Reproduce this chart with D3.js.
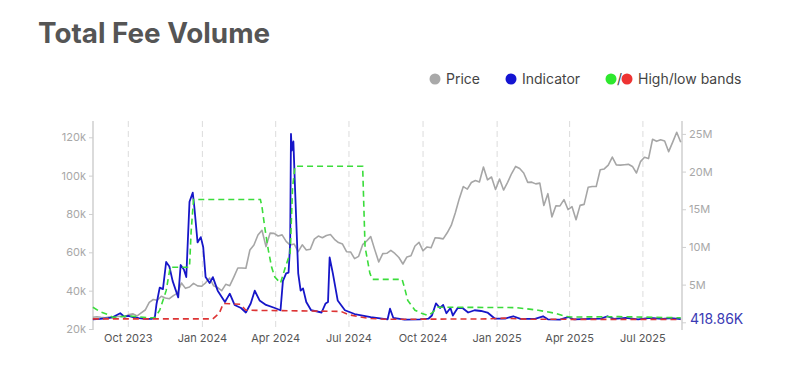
<!DOCTYPE html>
<html>
<head>
<meta charset="utf-8">
<script src="https://cdn.jsdelivr.net/npm/d3@7"></script>
<style>
  body { margin: 0; background: #fff; }
  svg { display: block; font-family: Inter, "Noto Sans", sans-serif; }
</style>
</head>
<body>
<script>
// Price (k USD), one value every 5 days from 2023-08-18
const priceStart = "2023-08-18";
const priceValues = [
  26.1, 26.4, 26.1, 25.9, 26.2, 25.8, 26.5, 26.6, 26.4, 27.6,
  27.9, 26.8, 28.4, 29.9, 33.9, 35.4, 35.0, 37.1, 36.2, 35.8,
  37.4, 38.7, 44.0, 41.2, 41.9, 43.8, 42.5, 42.3, 44.1, 46.6,
  42.5, 41.6, 40.0, 43.3, 42.6, 47.1, 51.8, 51.8, 51.7, 61.2,
  63.8, 69.0, 71.5, 63.0, 70.0, 69.9, 68.5, 69.1, 65.7, 63.8,
  64.3, 60.4, 63.9, 61.2, 61.6, 66.9, 68.5, 67.6, 68.8, 69.3,
  66.8, 65.1, 64.3, 60.3, 60.2, 56.7, 57.9, 64.0, 65.9, 68.2,
  61.4, 55.0, 59.3, 59.5, 61.0, 59.4, 57.3, 53.9, 57.6, 58.2,
  63.3, 65.2, 60.8, 62.8, 62.4, 67.6, 67.4, 67.0, 70.2, 74.0,
  80.5, 88.0, 94.3, 93.0, 96.4, 97.5, 96.7, 104.5, 97.8, 99.3,
  92.8, 98.2, 92.5, 96.5, 101.1, 104.8, 103.7, 101.4, 96.5, 96.6,
  95.7, 96.1, 84.4, 90.6, 78.5, 84.3, 84.2, 87.5, 82.3, 83.8,
  77.0, 84.5, 85.0, 93.9, 94.3, 94.3, 103.1, 103.5, 105.5, 109.7,
  105.6, 105.5, 105.7, 105.9, 104.8, 101.4, 107.3, 109.6, 108.9, 119.0,
  117.9, 118.7, 118.1, 112.5, 117.5, 122.6, 117.4
];

// Total fee volume indicator (M)
const indicator = [
  ["2023-08-18", 0.40], ["2023-08-27", 0.45], ["2023-09-06", 0.55], ["2023-09-12", 0.70],
  ["2023-09-21", 1.20], ["2023-09-26", 0.75], ["2023-10-01", 0.85], ["2023-10-07", 0.70],
  ["2023-10-14", 0.55], ["2023-10-22", 0.45], ["2023-10-30", 0.45], ["2023-11-03", 0.70],
  ["2023-11-05", 2.40], ["2023-11-09", 4.60], ["2023-11-13", 4.40], ["2023-11-17", 8.00],
  ["2023-11-21", 7.40], ["2023-11-25", 5.50], ["2023-12-02", 3.30], ["2023-12-05", 7.60],
  ["2023-12-09", 7.00], ["2023-12-12", 6.00], ["2023-12-16", 16.0], ["2023-12-20", 17.2],
  ["2023-12-22", 15.3], ["2023-12-26", 10.6], ["2023-12-30", 11.3], ["2024-01-02", 10.0],
  ["2024-01-05", 6.00], ["2024-01-10", 5.20], ["2024-01-14", 6.00], ["2024-01-20", 4.20],
  ["2024-01-29", 2.70], ["2024-02-04", 3.80], ["2024-02-10", 2.30], ["2024-02-18", 1.90],
  ["2024-02-24", 1.30], ["2024-03-01", 2.50], ["2024-03-06", 4.20], ["2024-03-12", 2.90],
  ["2024-03-20", 2.30], ["2024-03-31", 1.90], ["2024-04-07", 1.60], ["2024-04-10", 5.50],
  ["2024-04-14", 6.50], ["2024-04-17", 6.60], ["2024-04-19", 10.5], ["2024-04-20", 25.0],
  ["2024-04-21", 22.8], ["2024-04-23", 24.0], ["2024-04-25", 17.9], ["2024-04-29", 6.50],
  ["2024-05-02", 4.20], ["2024-05-05", 4.50], ["2024-05-09", 2.70], ["2024-05-15", 1.60],
  ["2024-05-28", 1.30], ["2024-06-02", 2.50], ["2024-06-05", 2.70], ["2024-06-07", 8.60],
  ["2024-06-11", 6.50], ["2024-06-17", 2.90], ["2024-06-26", 1.60], ["2024-07-08", 1.10],
  ["2024-07-28", 0.70], ["2024-08-18", 0.40], ["2024-08-21", 1.80], ["2024-08-25", 0.60],
  ["2024-09-08", 0.35], ["2024-09-27", 0.40], ["2024-10-08", 0.50], ["2024-10-12", 0.90],
  ["2024-10-17", 2.50], ["2024-10-22", 1.90], ["2024-10-26", 2.30], ["2024-10-30", 1.20],
  ["2024-11-04", 1.90], ["2024-11-07", 0.90], ["2024-11-13", 1.90], ["2024-11-19", 1.90],
  ["2024-11-26", 1.30], ["2024-12-04", 1.60], ["2024-12-12", 1.50], ["2024-12-20", 1.30],
  ["2024-12-29", 0.50], ["2025-01-11", 0.50], ["2025-01-21", 0.80], ["2025-01-30", 0.45],
  ["2025-02-17", 0.45], ["2025-02-27", 0.80], ["2025-03-05", 0.40], ["2025-03-20", 0.35],
  ["2025-03-30", 0.70], ["2025-04-06", 0.40], ["2025-04-26", 0.45], ["2025-05-10", 0.50],
  ["2025-05-18", 0.80], ["2025-05-26", 0.45], ["2025-06-10", 0.60], ["2025-06-25", 0.40],
  ["2025-07-10", 0.60], ["2025-07-25", 0.45], ["2025-08-05", 0.55], ["2025-08-17", 0.42]
];

// High band (M)
const highBand = [
  ["2023-08-18", 2.0], ["2023-08-27", 1.4], ["2023-09-06", 1.0], ["2023-09-12", 0.65],
  ["2023-10-01", 0.85], ["2023-10-27", 0.6], ["2023-11-03", 0.6], ["2023-11-09", 1.6],
  ["2023-11-13", 2.9], ["2023-11-17", 4.2], ["2023-11-22", 7.3], ["2023-12-16", 7.3],
  ["2023-12-18", 12.0], ["2023-12-21", 16.3], ["2024-03-13", 16.3], ["2024-03-15", 15.3],
  ["2024-03-19", 12.2], ["2024-03-23", 9.5], ["2024-03-27", 7.3], ["2024-03-31", 6.0],
  ["2024-04-07", 5.2], ["2024-04-13", 7.3], ["2024-04-19", 9.2], ["2024-04-22", 17.9],
  ["2024-04-25", 20.7], ["2024-07-18", 20.7], ["2024-07-20", 13.5], ["2024-07-21", 10.0],
  ["2024-07-27", 6.5], ["2024-07-30", 5.7], ["2024-09-05", 5.7], ["2024-09-08", 4.6],
  ["2024-09-12", 2.9], ["2024-09-21", 1.6], ["2024-09-29", 1.2], ["2024-10-07", 0.9],
  ["2024-10-13", 1.3], ["2024-10-19", 2.0], ["2025-01-25", 1.95], ["2025-02-21", 1.6],
  ["2025-03-14", 1.2], ["2025-03-26", 0.8], ["2025-04-03", 0.7], ["2025-06-01", 0.75],
  ["2025-08-17", 0.6]
];

// Low band (M)
const lowBand = [
  ["2023-08-18", 0.45], ["2024-01-14", 0.45], ["2024-01-22", 1.2], ["2024-01-27", 2.5],
  ["2024-02-17", 2.4], ["2024-02-24", 1.6], ["2024-06-21", 1.45], ["2024-07-01", 1.0],
  ["2024-07-15", 0.7], ["2024-07-28", 0.5], ["2024-08-18", 0.4], ["2024-12-20", 0.45],
  ["2025-01-10", 0.55], ["2025-02-10", 0.4], ["2025-08-17", 0.38]
];

const xTickDates = ["2023-10-01", "2024-01-01", "2024-04-01", "2024-07-01",
                    "2024-10-01", "2025-01-01", "2025-04-01", "2025-07-01"];
const priceTicks = [20, 40, 60, 80, 100, 120];
const indicatorTicks = [0, 5, 10, 15, 20, 25];
const lastLabel = "418.86K";

const legendItems = [
  {label: "Price", colors: ["#a9a9a9"]},
  {label: "Indicator", colors: ["#1414d2"]},
  {label: "High/low bands", colors: ["#2ee82e", "#ee3333"]}
];

const width = 806, height = 373;
const parse = d3.timeParse("%Y-%m-%d");

const svg = d3.select("body").append("svg")
    .attr("width", width)
    .attr("height", height);

svg.append("rect").attr("width", width).attr("height", height).attr("fill", "#fff");

// Title
svg.append("text")
    .attr("x", 38)
    .attr("y", 43)
    .attr("font-size", "27.8px")
    .attr("font-weight", 700)
    .attr("fill", "#555")
    .text("Total Fee Volume");

// Legend
const legendX = [435, 511, 611];
legendItems.forEach((item, i) => {
  let g = svg.append("g").attr("transform", `translate(${legendX[i]},79)`);
  let cx = 0;
  item.colors.forEach((c, j) => {
    if (j > 0) {
      g.append("text").attr("x", cx - 5).attr("y", 5).attr("font-size", "14px")
        .attr("fill", "#444").text("/");
      cx += 5;
    }
    g.append("circle").attr("cx", cx).attr("cy", 0).attr("r", 5.5).attr("fill", c);
    cx += 11;
  });
  g.append("text")
      .attr("x", cx)
      .attr("y", 5)
      .attr("font-size", "14px")
      .attr("fill", "#444")
      .text(item.label);
});

// Scales
const plotLeft = 93, plotRight = 682, plotTop = 121, plotBottom = 330;

let x = d3.scaleTime()
    .domain([parse("2023-10-01"), parse("2025-07-01")])
    .range([128.3, 642.9]);

let yPrice = d3.scaleLinear()
    .domain([20, 120])
    .range([329, 137.3]);

let yInd = d3.scaleLinear()
    .domain([0, 25])
    .range([322.3, 133.9]);

// Vertical dashed gridlines
svg.append("g")
  .selectAll("line")
  .data(xTickDates.map(parse))
  .enter().append("line")
    .attr("x1", d => x(d)).attr("x2", d => x(d))
    .attr("y1", plotTop).attr("y2", plotBottom)
    .attr("stroke", "#dcdcdc")
    .attr("stroke-width", 1)
    .attr("stroke-dasharray", "6,4");

// Axes
let leftAxis = svg.append("g")
    .attr("transform", `translate(${plotLeft},0)`)
    .call(d3.axisLeft(yPrice).tickValues(priceTicks).tickFormat(d => d + "k").tickSize(4).tickPadding(3).tickSizeOuter(0));

let rightAxis = svg.append("g")
    .attr("transform", `translate(${plotRight},0)`)
    .call(d3.axisRight(yInd).tickValues(indicatorTicks).tickFormat(d => d === 0 ? "" : d + "M").tickSize(4).tickPadding(3).tickSizeOuter(0));

[leftAxis, rightAxis].forEach(ax => {
  ax.select(".domain").attr("stroke", "#cfcfcf").attr("stroke-width", 1.5)
    .attr("d", `M0,${plotTop}V${plotBottom}`);
  ax.selectAll(".tick line").attr("stroke", "#cfcfcf");
  ax.selectAll(".tick text").attr("fill", "#a8a8a8").attr("font-size", "11px")
    .style("font-family", "Inter, 'Noto Sans', sans-serif");
});

// x tick labels
svg.append("g")
  .selectAll("text")
  .data(xTickDates.map(parse))
  .enter().append("text")
    .attr("x", d => x(d))
    .attr("y", 342)
    .attr("text-anchor", "middle")
    .attr("font-size", "11px")
    .attr("fill", "#555")
    .text(d => d3.timeFormat("%b %Y")(d));

// Lines
let priceData = priceValues.map((v, i) => [d3.timeDay.offset(parse(priceStart), i * 5), v]);

let priceLine = d3.line().x(d => x(d[0])).y(d => yPrice(d[1]));
let indLine = d3.line().x(d => x(parse(d[0]))).y(d => yInd(d[1]));

svg.append("path")
    .datum(priceData)
    .attr("d", priceLine)
    .attr("fill", "none")
    .attr("stroke", "#a6a6a6")
    .attr("stroke-width", 1.6)
    .attr("stroke-linejoin", "round");

svg.append("path")
    .datum(indicator)
    .attr("d", indLine)
    .attr("fill", "none")
    .attr("stroke", "#1616c8")
    .attr("stroke-width", 1.8)
    .attr("stroke-linejoin", "round");

svg.append("path")
    .datum(highBand)
    .attr("d", indLine)
    .attr("fill", "none")
    .attr("stroke", "#3bdc3b")
    .attr("stroke-width", 1.6)
    .attr("stroke-dasharray", "6,4");

svg.append("path")
    .datum(lowBand)
    .attr("d", indLine)
    .attr("fill", "none")
    .attr("stroke", "#dd3434")
    .attr("stroke-width", 1.6)
    .attr("stroke-dasharray", "6,4");

// Last value label
let lastVal = indicator[indicator.length - 1][1];
svg.append("text")
    .attr("x", plotRight + 8)
    .attr("y", yInd(lastVal) + 5)
    .attr("font-size", "14px")
    .attr("fill", "#3a3ab4")
    .text(lastLabel);
</script>
</body>
</html>
